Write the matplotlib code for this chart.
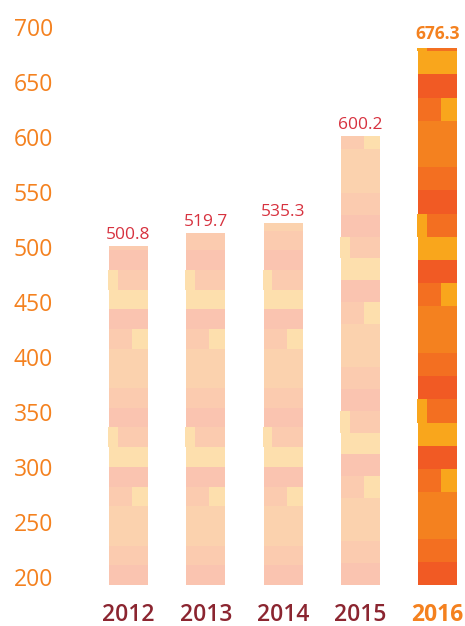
import matplotlib.pyplot as plt
import matplotlib.colors as mcolors

# data
years = ['2012', '2013', '2014', '2015', '2016']
values = [500.8, 519.7, 535.3, 600.2, 676.3]
# the drawn bar tops are not exactly the labelled values in the source
bar_tops = [501, 513, 522, 601, 681]
y_ticks = [200, 250, 300, 350, 400, 450, 500, 550, 600, 650, 700]

# palette
full = {'red': '#F15A24', 'org2': '#F36F21', 'org': '#F4811F', 'yel': '#F9A61C'}

def tint(c, a=0.36):
    r, g, b = mcolors.to_rgb(c)
    return (1 - a * (1 - r), 1 - a * (1 - g), 1 - a * (1 - b))

light = {k: tint(v) for k, v in full.items()}

# mosaic pattern, bottom up: (height in rows, [(start frac, end frac, colour)])
pattern = [
    (1, [(0, 1, 'red')]),
    (1, [(0, 1, 'org2')]),
    (2, [(0, 1, 'org')]),
    (1, [(0, 0.59, 'org2'), (0.59, 1, 'yel')]),
    (1, [(0, 1, 'red')]),
    (1, [(0, 1, 'yel')]),
    (1, [(-0.02, 0.23, 'yel'), (0.23, 1, 'org2')]),
]
row_h = [17.9, 17.9, 17.9, 19.8, 21.1]

ymin, ymax = 193, 715.7
bw = 0.505

fig = plt.figure(figsize=(4.65, 6.26), dpi=100)
ax = fig.add_axes([60 / 465, 41 / 626, 405 / 465, 575 / 626])

for i, (top, h) in enumerate(zip(bar_tops, row_h)):
    pal = full if i == len(years) - 1 else light
    y = ymin
    k = 0
    while y < top:
        units, segs = pattern[k % len(pattern)]
        y1 = min(y + units * h, top)
        for fs, fe, c in segs:
            ax.bar(i - bw / 2 + fs * bw, y1 - y, width=(fe - fs) * bw, bottom=y,
                   align='edge', color=pal[c], linewidth=0, antialiased=False)
        y = y1
        k += 1

for i, (v, top) in enumerate(zip(values, bar_tops)):
    last = i == len(years) - 1
    ax.text(i, top + (8 if last else 6.5), f'{v:.1f}', ha='center', va='baseline',
            fontsize=12.5, family='Open Sans',
            color='#F4811F' if last else '#D7323F',
            fontweight='bold' if last else 'normal')

ax.set_xlim(-0.887, 4.356)
ax.set_ylim(ymin, ymax)
ax.set_yticks(y_ticks)
ax.set_yticklabels([str(t) for t in y_ticks], family='Open Sans', fontsize=16.5,
                   color='#F4811F', fontweight='medium')
ax.set_xticks(range(len(years)))
ax.set_xticklabels(years, family='Open Sans', fontsize=16.5)
for j, lab in enumerate(ax.get_xticklabels()):
    if j == len(years) - 1:
        lab.set_color('#F4811F')
        lab.set_fontweight('bold')
    else:
        lab.set_color('#8B2530')
        lab.set_fontweight('semibold')
ax.tick_params(axis='y', length=0, pad=5)
ax.tick_params(axis='x', length=0, pad=13)
for s in ax.spines.values():
    s.set_visible(False)

fig.savefig('out.png', dpi=100)
